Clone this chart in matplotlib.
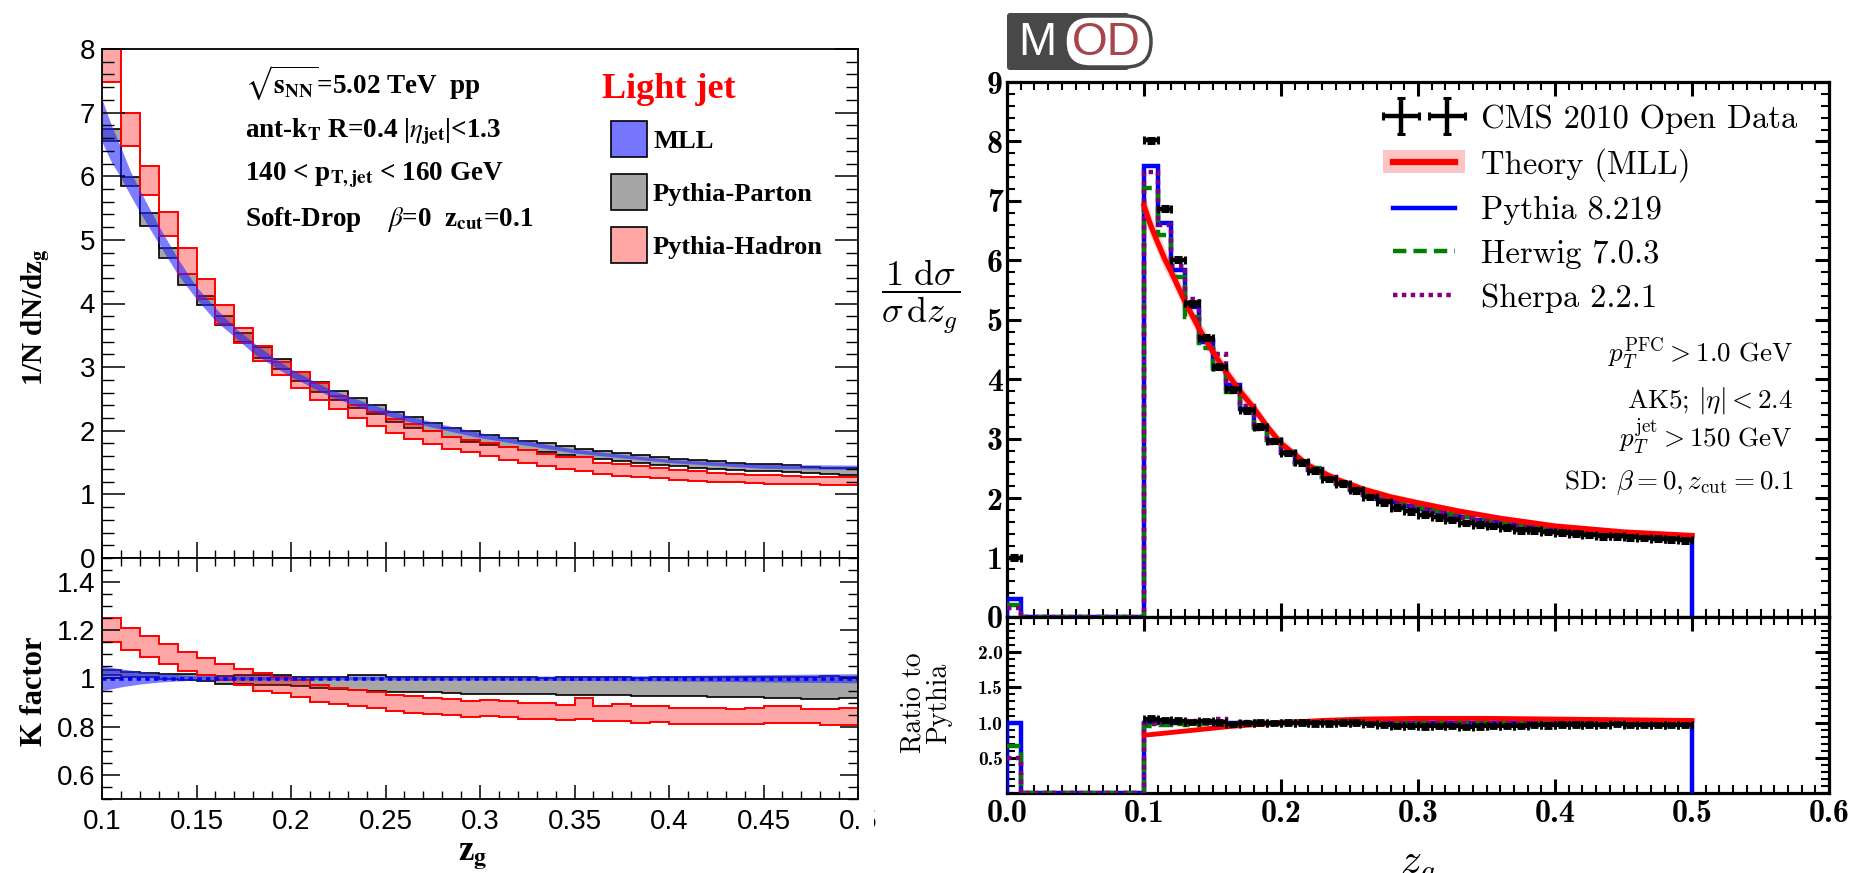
import matplotlib.pyplot as plt
import numpy as np
from matplotlib.patches import Rectangle, FancyBboxPatch, Patch
from matplotlib.lines import Line2D
from matplotlib.container import ErrorbarContainer
from matplotlib.legend_handler import HandlerErrorbar
from matplotlib.ticker import MultipleLocator, FixedLocator, FormatStrFormatter

W, H = 1857, 873

# ---------------- left figure: light jet, bins of 0.01 in z_g ----------------
left_edges = np.round(np.linspace(0.10, 0.50, 41), 3)

hadron_hi = [8.05, 7.00, 6.16, 5.44, 4.87, 4.38, 3.97, 3.62, 3.33, 3.08,
             2.92, 2.75, 2.55, 2.41, 2.30, 2.18, 2.10, 1.99, 1.90, 1.86,
             1.80, 1.74, 1.69, 1.64, 1.59, 1.58, 1.50, 1.48, 1.44, 1.41,
             1.38, 1.36, 1.34, 1.32, 1.31, 1.30, 1.29, 1.28, 1.27, 1.27]
hadron_lo = [7.48, 6.48, 5.71, 5.06, 4.47, 4.07, 3.67, 3.38, 3.10, 2.88,
             2.67, 2.48, 2.34, 2.20, 2.07, 1.96, 1.87, 1.79, 1.71, 1.66,
             1.60, 1.54, 1.49, 1.44, 1.40, 1.36, 1.32, 1.29, 1.27, 1.25,
             1.23, 1.21, 1.20, 1.19, 1.18, 1.17, 1.17, 1.16, 1.15, 1.15]
parton_hi = [6.75, 5.99, 5.42, 4.88, 4.46, 4.12, 3.81, 3.53, 3.31, 3.12,
             2.92, 2.76, 2.63, 2.52, 2.41, 2.29, 2.21, 2.12, 2.04, 1.99,
             1.94, 1.89, 1.84, 1.80, 1.76, 1.72, 1.68, 1.65, 1.62, 1.59,
             1.56, 1.54, 1.52, 1.50, 1.48, 1.47, 1.46, 1.43, 1.42, 1.41]
parton_lo = [6.55, 5.84, 5.22, 4.72, 4.29, 3.97, 3.66, 3.39, 3.14, 2.97,
             2.78, 2.61, 2.49, 2.35, 2.26, 2.13, 2.04, 1.99, 1.90, 1.83,
             1.78, 1.74, 1.70, 1.66, 1.62, 1.58, 1.55, 1.52, 1.49, 1.46,
             1.44, 1.42, 1.40, 1.38, 1.37, 1.36, 1.35, 1.33, 1.32, 1.31]

mll_z = [0.100, 0.105, 0.110, 0.115, 0.120, 0.130, 0.140, 0.150, 0.160, 0.170, 0.180,
         0.190, 0.200, 0.220, 0.240, 0.260, 0.280, 0.300, 0.350, 0.400, 0.450, 0.500]
mll_hi = [7.21, 6.80, 6.45, 6.08, 5.78, 5.22, 4.71, 4.26, 3.93, 3.63, 3.39,
          3.17, 2.97, 2.66, 2.44, 2.25, 2.10, 1.97, 1.71, 1.55, 1.47, 1.46]
mll_lo = [6.54, 6.22, 5.98, 5.70, 5.44, 4.94, 4.46, 4.07, 3.73, 3.48, 3.22,
          3.03, 2.85, 2.55, 2.33, 2.16, 2.02, 1.89, 1.65, 1.50, 1.41, 1.39]

k_hadron_hi = [1.249, 1.210, 1.176, 1.142, 1.110, 1.084, 1.059, 1.040, 1.022, 1.008,
               0.994, 0.975, 0.962, 0.953, 0.942, 0.932, 0.926, 0.919, 0.915, 0.908,
               0.912, 0.905, 0.898, 0.898, 0.891, 0.919, 0.884, 0.895, 0.884, 0.884,
               0.877, 0.877, 0.878, 0.875, 0.877, 0.884, 0.884, 0.875, 0.875, 0.877]
k_hadron_lo = [1.153, 1.118, 1.090, 1.060, 1.033, 1.015, 0.995, 0.971, 0.950, 0.940,
               0.923, 0.902, 0.895, 0.884, 0.877, 0.864, 0.857, 0.853, 0.847, 0.840,
               0.843, 0.840, 0.834, 0.830, 0.827, 0.830, 0.823, 0.823, 0.816, 0.819,
               0.812, 0.812, 0.813, 0.812, 0.812, 0.815, 0.815, 0.815, 0.805, 0.807]
k_parton_hi = [1.036, 1.025, 1.022, 1.019, 1.019, 1.015, 1.011, 1.015, 1.015, 1.015,
               1.008, 1.005, 1.005, 1.015, 1.015, 1.008, 1.005, 1.005, 1.005, 1.005,
               1.008, 1.006, 1.006, 1.004, 1.006, 1.008, 1.005, 1.005, 1.004, 1.005,
               1.006, 1.006, 1.005, 1.005, 1.006, 1.006, 1.005, 1.005, 1.010, 1.008]
k_parton_lo = [1.015, 1.008, 1.006, 1.000, 0.994, 0.988, 0.978, 0.978, 0.974, 0.971,
               0.967, 0.961, 0.957, 0.953, 0.949, 0.942, 0.942, 0.943, 0.940, 0.937,
               0.937, 0.936, 0.934, 0.935, 0.933, 0.932, 0.930, 0.931, 0.929, 0.927,
               0.926, 0.926, 0.925, 0.924, 0.922, 0.920, 0.918, 0.915, 0.917, 0.918]
k_mll_z = [0.100, 0.110, 0.120, 0.130, 0.140, 0.150, 0.200, 0.300, 0.400, 0.500]
k_mll_lo = [0.950, 0.965, 0.977, 0.985, 0.990, 0.993, 0.995, 0.994, 0.990, 0.982]
k_mll_hi = [1.052, 1.040, 1.030, 1.022, 1.016, 1.012, 1.008, 1.009, 1.012, 1.020]
k_mll_mid = [1.0, 1.0, 1.0, 1.0, 1.0, 1.0, 1.0, 1.0, 1.0, 1.0]

# ---------------- right figure: MOD / CMS open data, bins of 0.01 ----------------
right_edges = np.round(np.linspace(0.0, 0.50, 51), 3)
pythia = [0.30, 0, 0, 0, 0, 0, 0, 0, 0, 0,
          7.59, 6.62, 5.84, 5.21, 4.62, 4.20, 3.90, 3.50, 3.20, 2.98,
          2.76, 2.60, 2.49, 2.35, 2.24, 2.13, 2.07, 1.99, 1.93, 1.87,
          1.82, 1.77, 1.72, 1.68, 1.64, 1.60, 1.57, 1.54, 1.51, 1.49,
          1.46, 1.44, 1.42, 1.41, 1.39, 1.38, 1.37, 1.36, 1.35, 1.34]
herwig = [0.20, 0, 0, 0, 0, 0, 0, 0, 0, 0,
          7.22, 6.42, 5.72, 5.04, 4.53, 4.18, 3.78, 3.47, 3.18, 2.97,
          2.77, 2.61, 2.50, 2.36, 2.26, 2.15, 2.08, 2.00, 1.94, 1.88,
          1.83, 1.78, 1.73, 1.69, 1.65, 1.61, 1.58, 1.55, 1.52, 1.50,
          1.47, 1.46, 1.44, 1.42, 1.40, 1.39, 1.39, 1.37, 1.36, 1.35]
sherpa = [0.15, 0, 0, 0, 0, 0, 0, 0, 0, 0,
          7.49, 6.60, 5.90, 5.35, 4.66, 4.42, 3.85, 3.55, 3.17, 2.93,
          2.74, 2.58, 2.47, 2.33, 2.25, 2.12, 2.06, 1.97, 1.92, 1.85,
          1.80, 1.76, 1.70, 1.66, 1.62, 1.58, 1.55, 1.53, 1.49, 1.47,
          1.45, 1.43, 1.41, 1.40, 1.38, 1.37, 1.36, 1.35, 1.34, 1.33]
cms_z = [0.005, 0.105, 0.115, 0.125, 0.135, 0.145, 0.155, 0.165, 0.175, 0.185, 0.195,
         0.205, 0.215, 0.225, 0.235, 0.245, 0.255, 0.265, 0.275, 0.285, 0.295,
         0.305, 0.315, 0.325, 0.335, 0.345, 0.355, 0.365, 0.375, 0.385, 0.395,
         0.405, 0.415, 0.425, 0.435, 0.445, 0.455, 0.465, 0.475, 0.485, 0.495]
cms = [1.00, 8.02, 6.87, 6.01, 5.28, 4.70, 4.21, 3.83, 3.48, 3.20, 2.96,
       2.76, 2.60, 2.46, 2.32, 2.24, 2.13, 2.02, 1.93, 1.84, 1.78,
       1.72, 1.68, 1.63, 1.58, 1.55, 1.53, 1.50, 1.46, 1.46, 1.43,
       1.42, 1.40, 1.38, 1.36, 1.36, 1.34, 1.33, 1.32, 1.31, 1.29]
theory_z = [0.100, 0.105, 0.110, 0.115, 0.120, 0.130, 0.140, 0.150, 0.160, 0.170, 0.180, 0.190,
            0.200, 0.220, 0.240, 0.260, 0.280, 0.300, 0.330, 0.360, 0.400, 0.450, 0.500]
theory = [6.92, 6.58, 6.30, 6.03, 5.80, 5.30, 4.86, 4.47, 4.12, 3.80, 3.52, 3.20,
          2.92, 2.55, 2.32, 2.15, 2.02, 1.92, 1.78, 1.66, 1.53, 1.43, 1.37]
theory_ratio_z = [0.100, 0.110, 0.120, 0.140, 0.160, 0.180, 0.200, 0.230, 0.260,
                  0.300, 0.350, 0.400, 0.450, 0.500]
theory_ratio = [0.82, 0.84, 0.86, 0.90, 0.94, 0.97, 1.00, 1.03, 1.05,
                1.06, 1.06, 1.05, 1.04, 1.03]


def px_axes(fig, x0, y0, x1, y1):
    return fig.add_axes([x0 / W, 1 - y1 / H, (x1 - x0) / W, (y1 - y0) / H])


def fx(x):
    return x / W


def fy(y):
    return 1 - y / H


def band(ax, edges, lo, hi, face, edge, alpha, lw):
    ax.stairs(hi, edges, baseline=lo, fill=True, color=face, alpha=alpha, lw=0)
    ax.stairs(hi, edges, baseline=None, color=edge, lw=lw)
    ax.stairs(lo, edges, baseline=None, color=edge, lw=lw)


fig = plt.figure(figsize=(W / 100, H / 100), dpi=100)

left_tick_font = dict(family="Liberation Sans", size=20)
serif_bold = dict(family="Liberation Serif", weight="bold", math_fontfamily="stix")

# ---- left top: 1/N dN/dz_g
ax1 = px_axes(fig, 102, 49, 858, 558)
band(ax1, left_edges, parton_lo, parton_hi, "#a6a6a6", "black", 1.0, 1.2)
band(ax1, left_edges, hadron_lo, hadron_hi, "red", "red", 0.35, 1.4)
ax1.fill_between(mll_z, mll_lo, mll_hi, color="#2626ff", alpha=0.6, lw=0)
ax1.set_xlim(0.1, 0.5)
ax1.set_ylim(0, 8)
ax1.xaxis.set_major_locator(MultipleLocator(0.05))
ax1.xaxis.set_minor_locator(MultipleLocator(0.01))
ax1.yaxis.set_major_locator(MultipleLocator(1))
ax1.yaxis.set_minor_locator(MultipleLocator(0.2))
ax1.yaxis.set_major_formatter(FormatStrFormatter("%g"))
ax1.tick_params(which="both", direction="in", left=True, right=True, top=False, bottom=True,
                labelbottom=False, pad=5)
ax1.tick_params(axis="y", which="major", length=16.5, width=1.1)
ax1.tick_params(axis="y", which="minor", length=8.5, width=1.0)
ax1.tick_params(axis="x", which="major", length=11.5, width=1.1)
ax1.tick_params(axis="x", which="minor", length=6, width=1.0)
for lab in ax1.get_yticklabels():
    lab.set_fontproperties(left_tick_font)
for s in ax1.spines.values():
    s.set_linewidth(1.3)

# ---- left bottom: K factor
ax2 = px_axes(fig, 102, 558, 858, 799)
band(ax2, left_edges, k_parton_lo, k_parton_hi, "#a6a6a6", "black", 1.0, 1.2)
band(ax2, left_edges, k_hadron_lo, k_hadron_hi, "red", "red", 0.35, 1.4)
ax2.fill_between(k_mll_z, k_mll_lo, k_mll_hi, color="#2626ff", alpha=0.6, lw=0)
ax2.plot(k_mll_z, k_mll_mid, color="#0000ff", lw=2.6, ls=(0, (1.2, 1.2)))
ax2.set_xlim(0.1, 0.5)
ax2.set_ylim(0.5, 1.5)
ax2.xaxis.set_major_locator(MultipleLocator(0.05))
ax2.xaxis.set_minor_locator(MultipleLocator(0.01))
ax2.yaxis.set_major_locator(MultipleLocator(0.2))
ax2.yaxis.set_minor_locator(MultipleLocator(0.05))
ax2.xaxis.set_major_formatter(FormatStrFormatter("%g"))
ax2.yaxis.set_major_formatter(FormatStrFormatter("%g"))
ax2.tick_params(which="both", direction="in", left=True, right=True, top=True, bottom=True)
ax2.tick_params(axis="y", which="major", length=13, width=1.1, pad=5)
ax2.tick_params(axis="y", which="minor", length=7, width=1.0)
ax2.tick_params(axis="x", which="major", length=10, width=1.1, pad=7)
ax2.tick_params(axis="x", which="minor", length=6, width=1.0)
for lab in ax2.get_yticklabels() + ax2.get_xticklabels():
    lab.set_fontproperties(left_tick_font)
for s in ax2.spines.values():
    s.set_linewidth(1.3)

# left labels and texts
fig.text(fx(36), fy(317), r"1/N dN/dz$_{\mathbf{g}}$", rotation=90, ha="center", va="center",
         size=21, **serif_bold)
fig.text(fx(34), fy(691), "K factor", rotation=90, ha="center", va="center", size=22, **serif_bold)
fig.text(fx(473), fy(856), r"z$_{\mathbf{g}}$", ha="center", va="center", size=25, **serif_bold)

info_lines = [r"$\sqrt{\mathbf{s_{NN}}}$=5.02 TeV  pp",
              r"ant-k$_{\mathbf{T}}$ R=0.4 |$\eta_{\mathbf{jet}}$|<1.3",
              r"140 < p$_{\mathbf{T,jet}}$ < 160 GeV",
              r"Soft-Drop    $\beta$=0  z$_{\mathbf{cut}}$=0.1"]
for txt, yb in zip(info_lines, [94, 137, 180, 226]):
    fig.text(fx(245), fy(yb), txt, ha="left", va="baseline", size=19.5, **serif_bold)

fig.text(fx(602), fy(98), "Light jet", color="red", ha="left", va="baseline", size=26, **serif_bold)
legend_left = [("MLL", "#7575ff", 121), ("Pythia-Parton", "#a6a6a6", 174), ("Pythia-Hadron", "#ffa6a6", 227)]
for name, col, ytop in legend_left:
    fig.add_artist(Rectangle((fx(611), fy(ytop + 36)), 36 / W, 36 / H, transform=fig.transFigure,
                             facecolor=col, edgecolor="black", lw=1.2))
    fig.text(fx(653), fy(ytop + 27), name, ha="left", va="baseline", size=19, **serif_bold)

# hide the part of the last tick label that is cut in the source image
fig.add_artist(Rectangle((fx(862), fy(850)), 12 / W, 50 / H, transform=fig.transFigure,
                         facecolor="white", edgecolor="none", zorder=10))

# ---------------- right figure ----------------
cm_tick = dict(family="cmb10", size=23)
ax3 = px_axes(fig, 1007, 82, 1829, 617)
band_lo = [v * 0.97 for v in theory]
band_hi = [v * 1.03 for v in theory]
ax3.fill_between(theory_z, band_lo, band_hi, color="#ff9a9a", alpha=0.5, lw=0)
ax3.stairs(pythia, right_edges, color="#0000ff", lw=3.2, zorder=3)
ax3.stairs(herwig, right_edges, baseline=None, color="#008000", lw=3.2, ls=(0, (3, 1.6)), zorder=3)
ax3.stairs(sherpa, right_edges, baseline=None, color="#800080", lw=3.2, ls=(0, (1, 1)), zorder=3)
ax3.plot(theory_z, theory, color="#ff0000", lw=3.8, zorder=4)
cms_err = ax3.errorbar(cms_z, cms, xerr=0.005, yerr=0.04, fmt="none", ecolor="black",
                       elinewidth=3.2, capsize=3, capthick=2.2, zorder=5)
ax3.set_xlim(0, 0.6)
ax3.set_ylim(0, 9)
ax3.xaxis.set_major_locator(MultipleLocator(0.1))
ax3.xaxis.set_minor_locator(MultipleLocator(0.01))
ax3.yaxis.set_major_locator(MultipleLocator(1))
ax3.yaxis.set_minor_locator(MultipleLocator(0.2))
ax3.tick_params(which="both", direction="in", left=True, right=True, top=True, bottom=True,
                labelbottom=False, pad=3)
ax3.tick_params(which="major", length=10, width=2.2)
ax3.tick_params(which="minor", length=5.5, width=1.5)
for lab in ax3.get_yticklabels():
    lab.set_fontproperties(cm_tick)
for s in ax3.spines.values():
    s.set_linewidth(2.3)

handles = [cms_err,
           (Patch(facecolor="#ffc4c4", edgecolor="none"), Line2D([], [], color="#ff0000", lw=4.5)),
           Line2D([], [], color="#0000ff", lw=3.2),
           Line2D([], [], color="#008000", lw=3.2, ls=(0, (3, 1.6))),
           Line2D([], [], color="#800080", lw=3.2, ls=(0, (1, 1)))]
labels = ["CMS 2010 Open Data", "Theory (MLL)", "Pythia 8.219", "Herwig 7.0.3", "Sherpa 2.2.1"]
ax3.legend(handles, labels, loc="upper left", bbox_to_anchor=((1383 - 1007) / 822, (617 - 104) / 535),
           frameon=False, prop=dict(family="cmr10", size=23.5), numpoints=2, handlelength=2.5,
           handletextpad=0.5, labelspacing=0.44, borderpad=0, borderaxespad=0,
           handler_map={ErrorbarContainer: HandlerErrorbar(marker_pad=0.55, xerr_size=0.55)})

notes = [(r"$p_T^{\mathrm{PFC}} > 1.0\ \mathrm{GeV}$", 362),
         (r"AK5; $|\eta| < 2.4$", 408),
         (r"$p_T^{\mathrm{jet}} > 150\ \mathrm{GeV}$", 447),
         (r"SD: $\beta = 0, z_{\mathrm{cut}} = 0.1$", 489)]
for txt, yb in notes:
    fig.text(fx(1793), fy(yb), txt, ha="right", va="baseline", family="cmr10", size=19.5,
             math_fontfamily="cm")

# ratio panel
ax4 = px_axes(fig, 1007, 617, 1829, 793)
pyth = np.array(pythia)
ratio_pythia = np.divide(pyth, pyth, out=np.zeros_like(pyth), where=pyth > 0)
ratio_herwig = np.divide(np.array(herwig), pyth, out=np.zeros_like(pyth), where=pyth > 0)
ratio_sherpa = np.divide(np.array(sherpa), pyth, out=np.zeros_like(pyth), where=pyth > 0)
cms_bin = np.searchsorted(right_edges, cms_z) - 1
ratio_cms = np.array(cms) / pyth[cms_bin]
ratio_lo = [v - 0.02 for v in theory_ratio]
ratio_hi = [v + 0.02 for v in theory_ratio]
ax4.fill_between(theory_ratio_z, ratio_lo, ratio_hi, color="#ff9a9a", alpha=0.6, lw=0)
ax4.stairs(ratio_pythia, right_edges, color="#0000ff", lw=3.2, zorder=3)
ax4.stairs(ratio_herwig, right_edges, baseline=None, color="#008000", lw=3.2, ls=(0, (3, 1.6)), zorder=3)
ax4.stairs(ratio_sherpa, right_edges, baseline=None, color="#800080", lw=3.2, ls=(0, (1, 1)), zorder=3)
ax4.plot(theory_ratio_z, theory_ratio, color="#ff0000", lw=3.5, zorder=4)
ax4.errorbar(cms_z, ratio_cms, xerr=0.005, yerr=0.03, fmt="none", ecolor="black",
             elinewidth=3.0, capsize=3, capthick=2.0, zorder=5)
ax4.set_xlim(0, 0.6)
ax4.set_ylim(0, 2.5)
ax4.xaxis.set_major_locator(MultipleLocator(0.1))
ax4.xaxis.set_minor_locator(MultipleLocator(0.01))
ax4.yaxis.set_major_locator(FixedLocator([0.5, 1.0, 1.5, 2.0]))
ax4.yaxis.set_minor_locator(MultipleLocator(0.1))
ax4.xaxis.set_major_formatter(FormatStrFormatter("%.1f"))
ax4.yaxis.set_major_formatter(FormatStrFormatter("%.1f"))
ax4.tick_params(which="both", direction="in", left=True, right=True, top=True, bottom=True)
ax4.tick_params(which="major", length=10, width=2.2)
ax4.tick_params(which="minor", length=5.5, width=1.5)
ax4.tick_params(axis="x", pad=4)
ax4.tick_params(axis="y", pad=3)
for lab in ax4.get_xticklabels():
    lab.set_fontproperties(cm_tick)
for lab in ax4.get_yticklabels():
    lab.set_fontproperties(dict(family="cmb10", size=14))
for s in ax4.spines.values():
    s.set_linewidth(2.3)

fig.text(fx(921), fy(297), r"$\dfrac{1\ \mathrm{d}\sigma}{\sigma\,\mathrm{d}z_g}$", ha="center",
         va="center", size=26, math_fontfamily="cm")
fig.text(fx(926), fy(703), "Ratio to\nPythia", rotation=90, ha="center", va="center",
         family="cmr10", size=20, linespacing=0.95)
fig.text(fx(1418), fy(868), r"$z_g$", ha="center", va="center", size=30, math_fontfamily="cm")

# MOD logo
axl = px_axes(fig, 1007, 13, 1153, 70)
axl.set_xlim(0, 146)
axl.set_ylim(57, 0)
axl.axis("off")
axl.add_patch(FancyBboxPatch((0, 0), 122, 57, boxstyle="round,pad=0,rounding_size=3",
                             facecolor="#484848", edgecolor="none"))
axl.add_patch(FancyBboxPatch((58, 3), 86, 51, boxstyle="round,pad=0,rounding_size=25",
                             facecolor="white", edgecolor="#484848", lw=2.5))
axl.text(30, 30, "M", color="white", ha="center", va="center", family="Liberation Sans", size=33)
axl.text(99, 30, "OD", color="#a8454c", ha="center", va="center", family="Liberation Sans", size=33)

fig.savefig("out.png", dpi=100)
